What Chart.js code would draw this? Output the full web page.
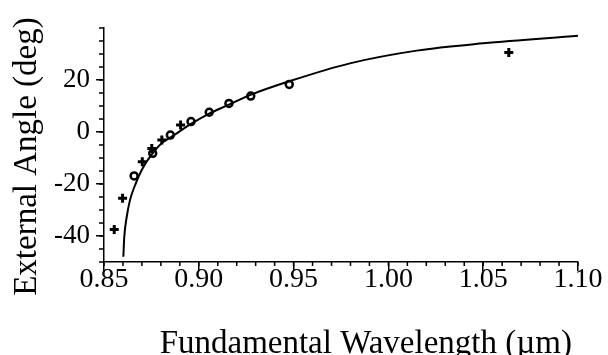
<!DOCTYPE html>
<html>
<head>
<meta charset="utf-8">
<script src="https://cdn.jsdelivr.net/npm/chart.js@4"></script>
<style>
  body { margin: 0; background: #fff; }
</style>
</head>
<body>
<canvas id="angleChart" width="608" height="355"></canvas>
<script>
// measured points, + markers
const crossX = [0.8554, 0.8598, 0.8702, 0.8752, 0.8805, 0.8904, 1.0635];
const crossY = [-37.5, -25.5, -11.4, -6.3, -3.1, 2.7, 30.6];

// measured points, o markers
const circleX = [0.8659, 0.8757, 0.8850, 0.8959, 0.9055, 0.9159, 0.9274, 0.9477];
const circleY = [-16.9, -8.2, -1.2, 4.0, 7.6, 11.0, 13.8, 18.3];

// theory curve
const curveX = [0.8602, 0.8607, 0.8620, 0.8637, 0.8664, 0.8699, 0.8743, 0.8804, 0.8859, 0.8963, 0.9050, 0.9156, 0.9270, 0.9481, 0.9797, 1.0149, 1.0500, 1.1000];
const curveY = [-48.0, -40.3, -32.6, -26.2, -20.4, -14.6, -9.5, -4.3, -1.7, 3.3, 6.9, 10.4, 14.2, 19.6, 26.4, 31.3, 34.1, 37.0];

const xTicks = [0.85, 0.90, 0.95, 1.00, 1.05, 1.10];
const yTicks = [-40, -20, 0, 20];

const serif = "'Liberation Serif', 'DejaVu Serif', serif";

function toPoints(xs, ys) {
    return xs.map((x, i) => ({ x: x, y: ys[i] }));
}

// small ticks between the labelled ones
const minorTicks = {
    id: 'minorTicks',
    afterDraw(chart) {
        const ctx = chart.ctx;
        const xs = chart.scales.x;
        const ys = chart.scales.y;
        ctx.save();
        ctx.strokeStyle = '#000';
        ctx.lineWidth = 1.5;
        ctx.beginPath();
        for (let i = 0; i <= 25; i++) {
            const px = xs.getPixelForValue(0.85 + i * 0.01);
            ctx.moveTo(px, xs.top);
            ctx.lineTo(px, xs.top + 4);
        }
        for (let v = -50; v <= 40; v += 5) {
            const py = ys.getPixelForValue(v);
            ctx.moveTo(ys.right, py);
            ctx.lineTo(ys.right - 5, py);
        }
        ctx.stroke();
        ctx.restore();
    }
};

new Chart(document.getElementById('angleChart'), {
    type: 'scatter',
    data: {
        datasets: [{
            label: 'theory',
            data: toPoints(curveX, curveY),
            showLine: true,
            borderColor: '#000',
            borderWidth: 2,
            pointRadius: 0,
            cubicInterpolationMode: 'monotone',
            fill: false
        }, {
            label: 'cross',
            data: toPoints(crossX, crossY),
            pointStyle: 'cross',
            pointRadius: 4.5,
            borderColor: '#000',
            borderWidth: 3
        }, {
            label: 'circle',
            data: toPoints(circleX, circleY),
            pointStyle: 'circle',
            pointRadius: 3.5,
            borderColor: '#000',
            backgroundColor: '#fff',
            borderWidth: 2.5
        }]
    },
    options: {
        responsive: false,
        devicePixelRatio: 1,
        animation: false,
        layout: { padding: { top: 28, right: 30, left: 0, bottom: 0 } },
        plugins: {
            legend: { display: false },
            tooltip: { enabled: false }
        },
        scales: {
            x: {
                type: 'linear',
                min: 0.85,
                max: 1.10,
                afterBuildTicks: scale => { scale.ticks = xTicks.map(v => ({ value: v })); },
                afterFit: scale => { scale.height = 93; },
                border: { display: true, color: '#000', width: 1.5 },
                grid: { drawOnChartArea: false, drawTicks: true, tickLength: 9, color: '#000', lineWidth: 1.5 },
                ticks: {
                    color: '#000',
                    padding: -8,
                    maxRotation: 0,
                    font: { family: serif, size: 28 },
                    callback: v => v.toFixed(2)
                },
                title: {
                    display: true,
                    // leading spaces push the title right of the axis centre, as in the original
                    text: '\u2002\u2002\u2002Fundamental Wavelength (\u00b5m)',
                    color: '#000',
                    font: { family: serif, size: 33, lineHeight: 1 },
                    padding: { top: 0, bottom: -6 }
                }
            },
            y: {
                type: 'linear',
                min: -50,
                max: 40,
                afterBuildTicks: scale => { scale.ticks = yTicks.map(v => ({ value: v })); },
                afterFit: scale => { scale.width = 104; },
                border: { display: true, color: '#000', width: 1.5 },
                grid: { drawOnChartArea: false, drawTicks: true, tickLength: 8, color: '#000', lineWidth: 1.5 },
                ticks: {
                    color: '#000',
                    padding: 6,
                    font: { family: serif, size: 27 }
                },
                title: {
                    display: true,
                    text: 'External Angle (deg)\u2002\u2009',
                    color: '#000',
                    font: { family: serif, size: 33 },
                    padding: { top: 8, bottom: 0 }
                }
            }
        }
    },
    plugins: [minorTicks]
});
</script>
</body>
</html>
